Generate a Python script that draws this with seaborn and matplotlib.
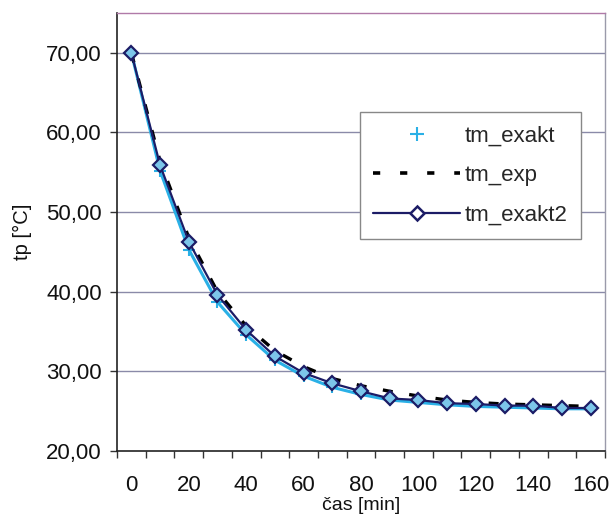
import matplotlib
matplotlib.use("Agg")
import matplotlib.pyplot as plt
import seaborn as sns
import numpy as np
from matplotlib.lines import Line2D
from matplotlib.ticker import FixedLocator, FuncFormatter, NullFormatter

sns.set_theme(style="white")
plt.rcParams['font.family'] = ['Liberation Sans', 'DejaVu Sans']

cas = [0, 10, 20, 30, 40, 50, 60, 70, 80, 90, 100, 110, 120, 130, 140, 150, 160]
tm_exakt = [70.0, 55.2, 45.3, 38.7, 34.6, 31.4, 29.4, 28.0, 27.1, 26.4, 26.1, 25.8, 25.6, 25.5, 25.4, 25.3, 25.3]
tm_exp = [70.0, 56.4, 46.8, 40.0, 35.7, 32.6, 30.6, 29.1, 28.2, 27.5, 26.9, 26.4, 26.1, 25.9, 25.8, 25.7, 25.6]
tm_exakt2 = [70.0, 55.9, 46.3, 39.6, 35.2, 31.9, 29.8, 28.5, 27.5, 26.6, 26.4, 26.0, 25.9, 25.7, 25.7, 25.4, 25.4]
y_ticks = [20, 30, 40, 50, 60, 70]
x_labels = [0, 20, 40, 60, 80, 100, 120, 140, 160]

fig = plt.figure(figsize=(6.12, 5.15), dpi=100)
ax = fig.add_axes([117/612, 64/515, 488/612, 438/515])

grid_c = '#8a8aa8'
for v in y_ticks[1:]:
    ax.axhline(v, color=grid_c, lw=1.0, zorder=0)

cyan = '#2ab0e6'
navy = '#1c1c66'
sns.lineplot(x=cas, y=tm_exakt, ax=ax, color=cyan, lw=2.2, marker='+',
             markersize=9, markeredgewidth=1.5, markeredgecolor=cyan, zorder=2)
sns.lineplot(x=cas, y=tm_exp, ax=ax, color='black', lw=2.4, zorder=3)
ax.lines[-1].set_dashes([3, 5])
sns.lineplot(x=cas, y=tm_exakt2, ax=ax, color=navy, lw=1.6, marker='D',
             markersize=7, markerfacecolor='#7cc6ea', markeredgecolor=navy,
             markeredgewidth=1.6, zorder=4)

ax.set_xlim(-5, 165)
ax.set_ylim(20, 75)

# labels on major (no tick marks), tick marks on minor (category boundaries)
ax.xaxis.set_major_locator(FixedLocator(x_labels))
ax.xaxis.set_major_formatter(FuncFormatter(lambda v, p: f"{int(round(v))}"))
ax.xaxis.set_minor_locator(FixedLocator(np.arange(-5, 166, 10)))
ax.xaxis.set_minor_formatter(NullFormatter())
ax.tick_params(axis='x', which='minor', direction='out', length=5, width=1, color='#333333', bottom=True)
ax.tick_params(axis='x', which='major', length=0, pad=17, labelsize=16, labelcolor='#111111', bottom=True)

ax.set_yticks(y_ticks)
ax.set_yticklabels([f"{v:.2f}".replace('.', ',') for v in y_ticks])
ax.tick_params(axis='y', direction='out', length=5, width=1, color='#333333', left=True,
               labelsize=16, labelcolor='#111111', pad=6)

for s in ['left', 'bottom']:
    ax.spines[s].set_color('#222222')
    ax.spines[s].set_linewidth(1.2)
ax.spines['top'].set_color('#b07aa8')
ax.spines['right'].set_color('#9a9aaa')
for s in ['top', 'right']:
    ax.spines[s].set_linewidth(1.0)

ax.set_xlabel('čas [min]', fontsize=14, color='#111111', labelpad=1)
ax.set_ylabel('tp [°C]', fontsize=14.5, color='#111111', labelpad=10)

h1 = Line2D([], [], color=cyan, lw=0, marker='+', markersize=10, markeredgewidth=1.5)
h2 = Line2D([], [], color='black', lw=2.6, dashes=[2, 5.5])
h3 = Line2D([], [], color=navy, lw=1.6, marker='D', markersize=7,
            markerfacecolor='white', markeredgecolor=navy, markeredgewidth=1.8)
leg = ax.legend([h1, h2, h3], ['tm_exakt', 'tm_exp', 'tm_exakt2'],
                loc='upper left', bbox_to_anchor=((360-117)/488, (451-112)/438),
                borderaxespad=0,
                fontsize=16, handlelength=3.9, handletextpad=0.22,
                borderpad=0.6, labelspacing=0.85, fancybox=False, framealpha=1,
                edgecolor='#888888')
leg.get_frame().set_linewidth(1.0)

fig.savefig('out.png', dpi=100)
